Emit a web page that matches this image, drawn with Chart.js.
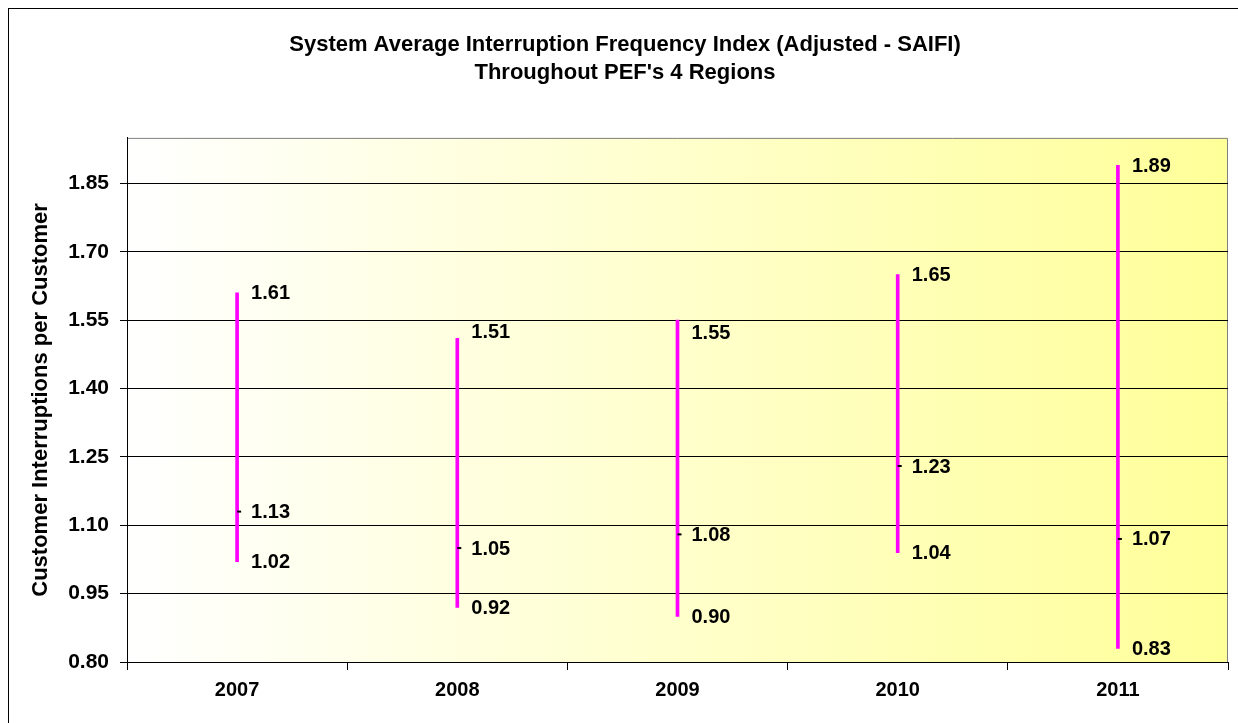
<!DOCTYPE html>
<html>
<head>
<meta charset="utf-8">
<script src="https://cdn.jsdelivr.net/npm/chart.js@4.4.1/dist/chart.umd.min.js"></script>
<style>
  html, body { margin: 0; padding: 0; background: #fff; }
  #wrap { width: 1238px; height: 723px; }
</style>
</head>
<body>
<div id="wrap"><canvas id="saifi"></canvas></div>
<script>
const years = ['2007', '2008', '2009', '2010', '2011'];
const highs = [1.61, 1.51, 1.55, 1.65, 1.89];
const averages = [1.13, 1.05, 1.08, 1.23, 1.07];
const lows = [1.02, 0.92, 0.90, 1.04, 0.83];
const yTicks = [0.80, 0.95, 1.10, 1.25, 1.40, 1.55, 1.70, 1.85];

const FONT = "'Liberation Sans', Arial, sans-serif";
// the original nudges a couple of the top labels off their points (px)
const highLabelShift = [0, -7, 12, 0, 0];

// white -> yellow fill behind plot, frame round the whole picture
const backdrop = {
  id: 'backdrop',
  beforeDraw(chart) {
    const {ctx, chartArea: a} = chart;
    ctx.save();
    ctx.strokeStyle = '#000';
    ctx.lineWidth = 1;
    ctx.strokeRect(8.5, 8.5, 1400, 900);
    const g = ctx.createLinearGradient(a.left, 0, a.right, 0);
    g.addColorStop(0, '#ffffff');
    g.addColorStop(1, '#ffff99');
    ctx.fillStyle = g;
    ctx.fillRect(a.left, a.top, a.right - a.left, a.bottom - a.top);
    ctx.strokeStyle = '#808080';
    ctx.beginPath();
    ctx.moveTo(a.left, a.top + 0.5);
    ctx.lineTo(a.right - 0.5, a.top + 0.5);
    ctx.lineTo(a.right - 0.5, a.bottom);
    ctx.stroke();
    ctx.restore();
  }
};

// value labels to the right of each line
const valueLabels = {
  id: 'valueLabels',
  afterDatasetsDraw(chart) {
    const {ctx} = chart;
    const x = chart.scales.x, y = chart.scales.y;
    ctx.save();
    ctx.font = 'bold 20px ' + FONT;
    ctx.fillStyle = '#000';
    ctx.textBaseline = 'middle';
    years.forEach((yr, i) => {
      const px = x.getPixelForValue(i) + 14;
      ctx.fillText(highs[i].toFixed(2), px, y.getPixelForValue(highs[i]) + 1 + highLabelShift[i]);
      ctx.fillText(averages[i].toFixed(2), px, y.getPixelForValue(averages[i]) + 1);
      ctx.fillText(lows[i].toFixed(2), px, y.getPixelForValue(lows[i]) + 1);
    });
    ctx.restore();
  }
};

new Chart(document.getElementById('saifi'), {
  type: 'bar',
  data: {
    labels: years,
    datasets: [
      {
        type: 'line',
        label: 'Average',
        data: averages,
        showLine: false,
        pointStyle: 'dash',
        pointRadius: 4,
        borderColor: '#000',
        borderWidth: 2
      },
      {
        label: 'Range',
        data: lows.map((lo, i) => [lo, highs[i]]),
        backgroundColor: '#ff00ff',
        barThickness: 3
      }
    ]
  },
  options: {
    responsive: true,
    maintainAspectRatio: false,
    animation: false,
    layout: { padding: { left: 22, right: 10, top: 0, bottom: 0 } },
    plugins: {
      legend: { display: false },
      tooltip: { enabled: false },
      title: {
        display: true,
        text: ['System Average Interruption Frequency Index (Adjusted - SAIFI)', "Throughout PEF's 4 Regions"],
        color: '#000',
        font: { family: FONT, size: 22, weight: 'bold', lineHeight: 1.27 },
        padding: { top: 31, bottom: 51 }
      }
    },
    scales: {
      x: {
        offset: true,
        grid: { offset: true, drawOnChartArea: false, color: '#000', tickLength: 8 },
        border: { color: '#000' },
        ticks: { color: '#000', font: { family: FONT, size: 20, weight: 'bold' }, padding: 8 },
        afterFit(s) { s.height = 61; }
      },
      y: {
        min: 0.80,
        max: 1.95,
        afterBuildTicks(s) { s.ticks = yTicks.map(v => ({ value: v })); },
        grid: { color: '#000', tickLength: 7 },
        border: { color: '#000' },
        ticks: {
          color: '#000',
          padding: 11,
          font: { family: FONT, size: 21, weight: 'bold' },
          callback: v => Number(v).toFixed(2)
        },
        title: {
          display: true,
          text: 'Customer Interruptions per Customer',
          color: '#000',
          font: { family: FONT, size: 22, weight: 'bold' },
          padding: { top: 6, bottom: 0 }
        },
        afterFit(s) { s.width = 105; }
      }
    }
  },
  plugins: [backdrop, valueLabels]
});
</script>
</body>
</html>
